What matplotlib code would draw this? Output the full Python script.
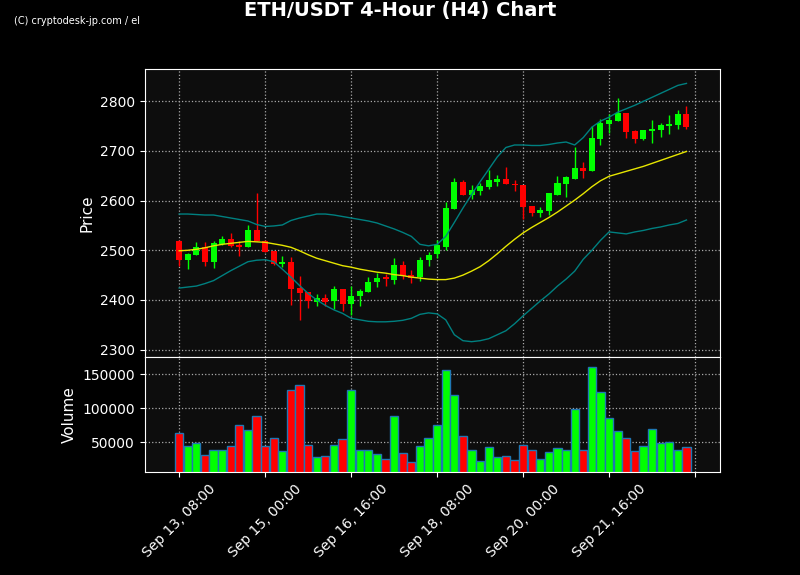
import numpy as np
import pandas as pd
import matplotlib
matplotlib.use("Agg")
import matplotlib.pyplot as plt

opens = [2518, 2481, 2490, 2506, 2477, 2512, 2523, 2510, 2506, 2540,
         2518, 2499, 2472, 2476, 2424, 2416, 2396, 2403, 2397, 2423,
         2391, 2407, 2416, 2436, 2446, 2441, 2470, 2450, 2446, 2480,
         2492, 2506, 2583, 2637, 2611, 2619, 2627, 2638, 2643, 2634,
         2632, 2589, 2575, 2579, 2612, 2633, 2644, 2666, 2660, 2724,
         2755, 2760, 2776, 2740, 2724, 2740, 2742, 2751, 2753, 2774]
highs = [2520, 2494, 2516, 2516, 2519, 2528, 2535, 2519, 2550, 2615,
         2520, 2499, 2488, 2486, 2449, 2416, 2411, 2411, 2429, 2423,
         2429, 2423, 2446, 2454, 2452, 2484, 2478, 2460, 2487, 2497,
         2520, 2597, 2646, 2641, 2631, 2636, 2662, 2652, 2668, 2641,
         2632, 2589, 2588, 2615, 2649, 2649, 2708, 2678, 2750, 2765,
         2775, 2807, 2776, 2743, 2743, 2763, 2757, 2773, 2783, 2790]
lows = [2468, 2462, 2490, 2469, 2464, 2511, 2506, 2488, 2506, 2518,
        2497, 2470, 2466, 2389, 2359, 2383, 2387, 2387, 2381, 2378,
        2369, 2388, 2416, 2426, 2428, 2432, 2443, 2435, 2438, 2469,
        2485, 2500, 2583, 2611, 2604, 2612, 2623, 2629, 2633, 2619,
        2564, 2569, 2567, 2572, 2612, 2608, 2644, 2646, 2660, 2711,
        2736, 2760, 2726, 2716, 2722, 2716, 2729, 2735, 2745, 2745]
closes = [2481, 2492, 2506, 2477, 2514, 2523, 2509, 2507, 2540, 2518,
          2497, 2472, 2476, 2423, 2415, 2397, 2403, 2396, 2423, 2391,
          2408, 2418, 2437, 2444, 2443, 2470, 2448, 2445, 2480, 2490,
          2510, 2585, 2637, 2611, 2621, 2629, 2641, 2644, 2633, 2631,
          2587, 2576, 2581, 2615, 2635, 2647, 2666, 2660, 2726, 2756,
          2762, 2776, 2739, 2724, 2742, 2745, 2752, 2755, 2774, 2748]
volumes = [63000, 44000, 48500, 31000, 39000, 39000, 44000, 75000, 67600, 88000,
           44000, 56000, 37000, 126000, 134000, 45600, 28000, 29000, 45600, 54000,
           126000, 39000, 39000, 32000, 25000, 88000, 34000, 20600, 44000, 56000,
           75000, 156000, 119000, 59000, 38000, 22000, 42600, 28000, 29000, 23500,
           45600, 38000, 25000, 35000, 41000, 39000, 98500, 39000, 160000, 123500,
           85000, 66000, 56000, 37000, 44000, 69000, 48500, 50000, 39000, 42600]
sma = [2499, 2500, 2502, 2505, 2509, 2512, 2514, 2516, 2518, 2517,
       2516, 2513, 2510, 2506, 2499, 2491, 2484, 2479, 2474, 2469,
       2466, 2462, 2459, 2456, 2454, 2451, 2449, 2446, 2444, 2442,
       2441, 2441, 2444, 2450, 2458, 2467, 2479, 2493, 2508, 2522,
       2535, 2546, 2556, 2566, 2577, 2589, 2601, 2614, 2628, 2640,
       2649, 2654, 2659, 2664, 2669, 2675, 2681, 2687, 2693, 2699]
upper = [2573, 2573, 2572, 2571, 2571, 2568, 2565, 2562, 2559, 2552,
         2548, 2549, 2551, 2560, 2565, 2569, 2573, 2573, 2571, 2568,
         2565, 2562, 2559, 2555, 2549, 2543, 2536, 2528, 2512, 2509,
         2512, 2528, 2556, 2585, 2612, 2638, 2663, 2688, 2707, 2712,
         2712, 2711, 2711, 2713, 2716, 2718, 2712, 2727, 2748, 2760,
         2768, 2778, 2785, 2792, 2800, 2808, 2816, 2824, 2832, 2836]
lower = [2424, 2426, 2428, 2433, 2439, 2449, 2459, 2468, 2477, 2480,
         2481, 2477, 2462, 2446, 2429, 2413, 2400, 2389, 2380, 2373,
         2363, 2360, 2357, 2356, 2356, 2357, 2359, 2363, 2371, 2374,
         2372, 2360, 2330, 2318, 2316, 2318, 2322, 2330, 2338, 2352,
         2368, 2383, 2398, 2412, 2428, 2442, 2458, 2482, 2500, 2520,
         2537, 2535, 2533, 2537, 2540, 2544, 2547, 2551, 2554, 2561]

times = pd.date_range("2024-09-13 08:00", periods=61, freq="4h")

fig = plt.figure(figsize=(8, 5.75), dpi=100, facecolor="black")
ax = fig.add_axes([0.181, 0.379, 0.719, 0.501])
axv = fig.add_axes([0.181, 0.179, 0.719, 0.2], sharex=ax)

x = np.arange(len(closes))
up = np.array(closes) >= np.array(opens)
colors = np.where(up, "#00ff00", "#ff0000")

for a in (ax, axv):
    a.set_facecolor("#0d0d0d")
    for s in a.spines.values():
        s.set_color("white")
    a.tick_params(colors="white", labelsize=10)
    a.grid(True, color="#aaaaaa", linestyle=":", linewidth=0.9)
    a.set_axisbelow(True)

ax.vlines(x, lows, highs, colors=colors, linewidth=1, zorder=2)
body_bottom = np.minimum(opens, closes)
body_h = np.abs(np.array(closes) - np.array(opens))
body_h = np.maximum(body_h, 1.5)
ax.bar(x, body_h, bottom=body_bottom, width=0.7, color=colors, zorder=3)
ax.plot(x, sma, color="#e6e600", linewidth=1, zorder=4)
ax.plot(x, upper, color="#008080", linewidth=1, zorder=4)
ax.plot(x, lower, color="#008080", linewidth=1, zorder=4)
ax.set_ylim(2285, 2865)
ax.set_yticks([2300, 2400, 2500, 2600, 2700, 2800])
ax.set_ylabel("Price", color="white", fontsize=11)
ax.tick_params(axis="x", labelbottom=False)

axv.bar(x, volumes, width=0.95, color=colors, edgecolor="#1f77b4", linewidth=1)
axv.set_ylim(6000, 175000)
axv.set_yticks([50000, 100000, 150000])
axv.set_ylabel("Volume", color="white", fontsize=11)
axv.set_xlim(-4, 62.9)
ticks = list(range(0, 61, 10))
axv.set_xticks(ticks)
axv.set_xticklabels([times[i].strftime("%b %d, %H:%M") if i < 60 else "" for i in ticks],
                    rotation=45, ha="center")

fig.text(0.5, 0.982, "ETH/USDT 4-Hour (H4) Chart", color="white", fontsize=14,
         fontweight="bold", ha="center", va="center")
fig.text(0.018, 0.963, "(C) cryptodesk-jp.com / el", color="white", fontsize=7,
         ha="left", va="center")

fig.savefig("out.png", facecolor="black")
